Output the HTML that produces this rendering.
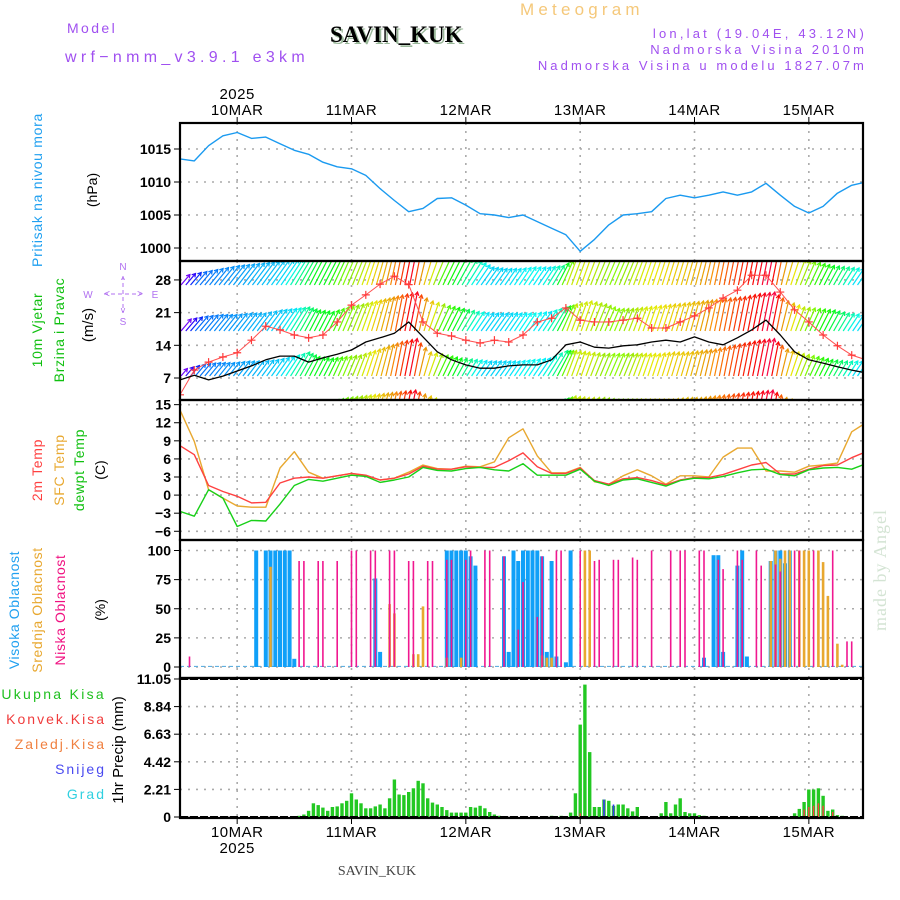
<!DOCTYPE html>
<html><head><meta charset="utf-8"><style>
html,body{margin:0;padding:0;background:#fff;}
svg{display:block;font-family:"Liberation Sans",sans-serif;}
.tk{font-size:14px;font-weight:bold;text-anchor:end;fill:#000;}
.dt{font-size:15px;text-anchor:middle;fill:#000;letter-spacing:0.5px;}
</style></head><body>
<svg id="chart" width="900" height="900" viewBox="0 0 900 900" xmlns="http://www.w3.org/2000/svg">
<rect width="900" height="900" fill="#fff"/>
<defs>
<clipPath id="cp1"><rect x="180" y="123" width="683" height="138"/></clipPath>
<clipPath id="cp2"><rect x="180" y="261" width="683" height="139"/></clipPath>
<clipPath id="cp3"><rect x="180" y="400" width="683" height="140"/></clipPath>
<clipPath id="cp4"><rect x="180" y="540" width="683" height="138"/></clipPath>
<clipPath id="cp5"><rect x="180" y="678" width="683" height="140"/></clipPath>
</defs>
<g>
<text x="67" y="33" font-size="14" fill="#a050f0" letter-spacing="2.4">Model</text>
<text x="65" y="62" font-size="16" fill="#a050f0" letter-spacing="4.3">wrf−nmm_v3.9.1 e3km</text>
<text x="332" y="44" font-size="23" font-weight="bold" fill="#9ab89a" font-family="Liberation Serif, serif">SAVIN_KUK</text>
<text x="330" y="42" font-size="23" font-weight="bold" fill="#000" font-family="Liberation Serif, serif">SAVIN_KUK</text>
<text x="520" y="15" font-size="17" fill="#f5c87a" letter-spacing="4.2">Meteogram</text>
<text x="867" y="38" font-size="13" fill="#a050f0" text-anchor="end" letter-spacing="3.2">lon,lat (19.04E, 43.12N)</text>
<text x="867" y="54" font-size="13" fill="#a050f0" text-anchor="end" letter-spacing="3.1">Nadmorska Visina 2010m</text>
<text x="867" y="70" font-size="13" fill="#a050f0" text-anchor="end" letter-spacing="3.1">Nadmorska Visina u modelu 1827.07m</text>
</g>
<g id="grid"></g>
<g id="marks"></g>
<g id="frames"></g>
<g id="axes"></g>
<g>
<text transform="translate(42,190) rotate(-90)" font-size="14" fill="#20a0f0" text-anchor="middle" letter-spacing="0.7">Pritisak na nivou mora</text>
<text transform="translate(97,190) rotate(-90)" font-size="14" fill="#000" text-anchor="middle">(hPa)</text>
<text transform="translate(42,330) rotate(-90)" font-size="14" fill="#10c010" text-anchor="middle" letter-spacing="0.7">10m Vjetar</text>
<text transform="translate(64,330) rotate(-90)" font-size="14" fill="#10c010" text-anchor="middle" letter-spacing="0.7">Brzina i Pravac</text>
<text transform="translate(93,325) rotate(-90)" font-size="15" fill="#000" text-anchor="middle">(m/s)</text>
<g fill="#b070f0" font-size="10" text-anchor="middle">
<text x="123" y="270">N</text><text x="123" y="325">S</text><text x="88" y="298">W</text><text x="155" y="298">E</text>
<text x="123" y="283" font-size="9">^</text><text x="123" y="313" font-size="9">v</text>
<line x1="104" y1="294" x2="142" y2="294" stroke="#b070f0" stroke-width="1" stroke-dasharray="4 3"/>
<line x1="123" y1="276" x2="123" y2="312" stroke="#b070f0" stroke-width="1" stroke-dasharray="4 3"/>
<text x="107" y="297">&lt;</text><text x="140" y="297">&gt;</text>
</g>
<text transform="translate(42,470) rotate(-90)" font-size="14" fill="#ff4040" text-anchor="middle" letter-spacing="0.7">2m Temp</text>
<text transform="translate(64,470) rotate(-90)" font-size="14" fill="#e8a830" text-anchor="middle" letter-spacing="0.7">SFC Temp</text>
<text transform="translate(84,470) rotate(-90)" font-size="14" fill="#10c010" text-anchor="middle" letter-spacing="0.7">dewpt Temp</text>
<text transform="translate(105,470) rotate(-90)" font-size="14" fill="#000" text-anchor="middle">(C)</text>
<text transform="translate(19,610) rotate(-90)" font-size="14" fill="#20a0f0" text-anchor="middle" letter-spacing="0.6">Visoka Oblacnost</text>
<text transform="translate(42,610) rotate(-90)" font-size="14" fill="#e8a830" text-anchor="middle" letter-spacing="0.6">Srednja Oblacnost</text>
<text transform="translate(65,610) rotate(-90)" font-size="14" fill="#f01080" text-anchor="middle" letter-spacing="0.6">Niska Oblacnost</text>
<text transform="translate(105,610) rotate(-90)" font-size="14" fill="#000" text-anchor="middle">(%)</text>
<text x="106" y="699" font-size="14" fill="#20c020" text-anchor="end" letter-spacing="2.3">Ukupna Kisa</text>
<text x="106" y="724" font-size="14" fill="#f03c3c" text-anchor="end" letter-spacing="2">Konvek.Kisa</text>
<text x="106" y="749" font-size="14" fill="#f08040" text-anchor="end" letter-spacing="2">Zaledj.Kisa</text>
<text x="106" y="774" font-size="14" fill="#4a4af0" text-anchor="end" letter-spacing="2">Snijeg</text>
<text x="106" y="799" font-size="14" fill="#30d0e0" text-anchor="end" letter-spacing="2">Grad</text>
<text transform="translate(123,750) rotate(-90)" font-size="15" fill="#000" text-anchor="middle">1hr Precip (mm)</text>
<text transform="translate(886,570) rotate(-90)" font-size="18" fill="#d4e4d4" text-anchor="middle" font-family="Liberation Serif, serif" letter-spacing="1">made by Angel</text>
<text x="377" y="875" font-size="14" fill="#444" text-anchor="middle" font-family="Liberation Serif, serif">SAVIN_KUK</text>
</g>
</svg>
<script>
// ---- data (3-hourly from 12Z 09MAR, index i -> hour 3i) ----
const dayLabels = ["10MAR","11MAR","12MAR","13MAR","14MAR","15MAR"];
const pressure = [1013.5,1013.2,1015.5,1017,1017.5,1016.6,1016.8,1015.8,1014.8,1014.2,1013,1012.3,1012,1011,1009,1007.2,1005.5,1006,1007.5,1007.6,1006.5,1005.2,1005,1004.6,1005,1004,1003,1002,999.5,1001.3,1003.5,1005,1005.2,1005.5,1007.5,1008,1007.6,1008,1008.5,1008,1008.5,1009.8,1008,1006.3,1005.3,1006.3,1008.3,1009.5,1010];
const gust = [3.4,8.7,10.4,11.5,12.4,15.1,18.1,17.3,16.2,15.6,16.2,19,22.6,24.8,27.1,28.8,27,19,16.6,16,15.1,14.5,15.1,14.7,16.2,19,19.8,22,19.4,19,19,19.4,19.8,17.7,17.7,19,20.3,22,24.1,25.8,29,29,25.4,21.6,19,16.2,13.9,11.9,10.9];
const windSpeed = [6.6,7.6,6.6,7.4,8.5,9.6,10.9,11.7,11.7,10.4,11.3,12.1,13,14.7,15.6,16.6,19,15.8,12.6,10.9,9.8,9.1,9.1,9.6,9.8,9.8,10.9,14.1,14.7,13.6,13.4,13.9,14.1,14.7,15.1,14.7,15.8,14.7,14.1,15.6,17.3,19.4,16.2,12.6,10.9,10.2,9.4,8.7,8.1];
const windDir = [248,235,232,230,228,226,224,220,212,205,205,198,195,188,182,175,168,185,200,205,215,222,222,220,218,220,212,192,190,195,197,195,190,188,186,185,182,178,175,172,170,165,180,192,200,205,212,220,222];
const levelA = [7,9,11,13,14,15,16,17,18,19,19,19,20,20,20,20,20,19,19,18,16,12,11,11,12,12,13,18,18,19,19,19,19,19,19,19,20,20,20,20,20,20,19,17,15,13,12,11,11];
const levelB = [8,10,11,11,12,12,14,15,16,14,13,16,18,20,22,24,26,20,17,15,13,12,12,12,12,13,16,18,20,18,15,15,16,17,18,19,20,21,22,23,25,26,20,16,15,14,12,11,11];
const levelC = [5,8,9,9,10,10,11,13,16,13,12,13,14,17,20,23,25,16,14,12,11,10,10,10,11,12,17,17,16,15,15,15,15,15,16,16,17,18,20,22,24,25,18,15,13,11,10,10,10];
const levelD = [10,10,10,10,10,10,10,10,10,12,13,15,16,17,18,19,20,16,12,10,10,10,10,10,10,10,14,16,15,15,14,14,14,14,14,15,15,16,17,18,19,20,15,12,10,10,10,10,10];
const tempSfc = [14.1,8.9,0.9,-0.5,-1.8,-2,-2,4.5,7.2,3.8,2.8,3.2,3.6,3.2,2.5,2.8,3.8,5,4.4,4.3,4.8,4.7,5.5,9.5,11,6.5,3.7,3.7,4.6,2.2,1.8,3.2,4.2,3.2,1.8,3.2,3.2,3.0,6.3,7.8,7.8,4,4,3.8,4.8,5,5.3,10.5,12];
const temp2m = [8.2,6.7,1.6,0.6,-0.2,-1.3,-1.2,2,2.8,3,2.8,3.2,3.6,3.3,2.5,2.8,3.5,4.8,4.3,4.3,4.7,4.6,4.6,5.7,7,4.7,3.6,3.6,4.5,2.4,1.8,2.7,2.9,2.4,1.7,2.5,2.9,2.9,3.4,4.2,5,5.4,3.5,3.5,4.3,4.9,5,6.2,7.2];
const dewpt = [-2.7,-3.5,0.9,-0.5,-5.2,-4.2,-4.3,-1.5,1.6,2.6,2.3,2.8,3.3,3.1,2.1,2.5,3,4.6,4.1,4,4.4,4.6,4.2,4,5.2,3.3,3.3,3.3,4.3,2.3,1.6,2.5,2.7,2.1,1.5,2.4,2.8,2.7,3.1,3.7,4.2,4.3,3.4,3.2,4.2,4.5,4.6,4.3,5.2];
// ---- cloud cover (hour index, %) ----
const highHours = [16,18,19,20,21,22,23,24,41,42,56,57,58,59,60,61,62,68,69,70,71,72,73,74,75,76,77,78,79,81,82,110,112,113,114,117,118,119,124,125,126,127,128];
const highVals = [100,100,100,100,100,100,100,7,76,13,100,100,100,100,100,95,87,95,13,100,91,100,100,100,100,95,13,91,9,4,100,8,96,96,13,87,100,9,91,100,100,89,100];
const midHours = [19,44,45,49,50,51,56,59,76,77,78,85,86,124,125,126,127,128,130,131,132,134,135,136,138,139];
const midVals = [86,54,46,11,11,52,8,8,10,8,8,100,100,91,100,93,100,100,100,100,100,100,90,61,20,2];
const lowHours = [2,25,26,29,30,33,36,37,40,41,44,45,48,49,52,53,56,57,60,61,64,65,68,71,72,75,76,79,80,84,87,88,91,92,95,96,99,103,105,106,109,110,113,114,117,118,121,122,125,126,129,130,133,137,140,141];
const lowVals = [9,91,91,91,91,91,100,100,100,100,100,100,91,91,91,91,92,92,92,100,100,100,95,32,73,43,95,100,100,100,91,92,92,92,94,92,100,100,100,100,100,100,92,84,100,92,100,87,88,82,100,100,100,100,22,22];
// ---- hourly precipitation (mm) ----
const precipTotal = [0,0,0,0,0,0,0,0,0,0,0,0,0,0,0,0,0,0,0,0,0,0,0,0,0,
0.1,0.2,0.5,1.1,0.95,0.75,0.5,0.8,0.85,1.1,1.3,1.9,1.4,1.1,0.7,0.7,0.85,1.0,0.7,1.5,3.0,1.8,1.75,2.0,2.3,2.9,2.7,1.5,1.15,1.0,0.8,0.55,
0.35,0.35,0.35,0.35,0.8,0.75,0.9,0.7,0.4,0.2,0.1,
0,0,0,0,0,0,0,0,0,0,
0.1,0,0.1,0,0.35,1.9,7.4,10.6,5.2,0.8,0.8,1.4,1.3,0.9,1.0,1.0,0.7,0.45,0.8,
0,0,0,0,
0.3,1.2,0.3,1.0,1.5,0.4,0.3,0.3,0.15,0.1,
0,0,0,0,0,0,0,0,0,0,0,0,0,0,0,0,0,0,
0.3,0.65,1.2,2.2,2.2,2.3,1.7,0.5,0.6,0.15,0.1,
0,0,0,0];
const convHours = [84,131,132,133,134,135,137];
const convVals = [0.3,0.6,0.8,0.9,1.1,0.9,0.4];
const snowHours = [89,91];
const snowVals = [1.4,1.0];
const pressureTicks = [1015,1010,1005,1000];
const windTicks = [7,14,21,28];
const tempTicks = [15,12,9,6,3,0,-3,-6];
const cloudTicks = [0,25,50,75,100];
const precipTicks = ["0","2.21","4.42","6.63","8.84","11.05"];

// ---- scales ----
const X0=180,X1=863,PXH=4.764;
const xh = h => X0 + h*PXH;
const yP = p => 149 + (1015-p)*6.6;
const yW = v => 378 - (v-7)*4.67;
const yT = t => 495.1 - t*6.03;
const yC = c => 667 - c*1.165;
const yR = r => 817 - r*12.49;

const NS="http://www.w3.org/2000/svg";
function mk(tag, parent, attrs){const e=document.createElementNS(NS,tag);for(const k in attrs)e.setAttribute(k,attrs[k]);parent.appendChild(e);return e;}
const grid=document.getElementById('grid'), marks=document.getElementById('marks'), frames=document.getElementById('frames'), axes=document.getElementById('axes');
const panels=[[123,261],[261,400],[400,540],[540,678],[678,818]];
const dotted={stroke:"#aaa","stroke-width":"1.6","stroke-dasharray":"2 6",fill:"none"};

dayLabels.forEach((d,k)=>{
  const x=xh(12+24*k);
  panels.forEach(p=>{const l=mk('line',grid,Object.assign({x1:x,x2:x,y1:p[0],y2:p[1]},dotted));
    
    });
  const t=mk('text',axes,{x:x,y:115,class:'dt'});t.textContent=d;
  
  
  const b=mk('text',axes,{x:x,y:837,class:'dt'});b.textContent=d;
  
  
  mk('line',axes,{x1:x,x2:x,y1:117,y2:123,stroke:'#000','stroke-width':1});
  mk('line',axes,{x1:x,x2:x,y1:818,y2:824,stroke:'#000','stroke-width':1});
});
{const t=mk('text',axes,{x:xh(12),y:99,class:'dt'});t.textContent='2025';


const b=mk('text',axes,{x:xh(12),y:853,class:'dt'});b.textContent='2025';

}

function hTicks(vals, yf, name, labels){
  vals.forEach((v,i)=>{const y=yf(typeof v==='string'?parseFloat(v):v);
    const l=mk('line',grid,Object.assign({x1:X0,x2:X1,y1:y,y2:y},dotted));
    
    
    mk('line',axes,{x1:X0-6,x2:X0,y1:y,y2:y,stroke:'#000','stroke-width':1});
    const t=mk('text',axes,{x:X0-9,y:y+5,class:'tk'});t.textContent=labels?labels[i]:String(v).replace('-','−');
    
    });
}
hTicks(pressureTicks,yP,'pressure');
hTicks(windTicks,yW,'wind');
hTicks(tempTicks,yT,'temp');
hTicks(cloudTicks,yC,'cloud');
hTicks(precipTicks,yR,'precip',precipTicks);

function linePath(arr, yf, clip, color, w, name){
  const d=arr.map((v,i)=>(i?'L':'M')+xh(3*i).toFixed(1)+','+yf(v).toFixed(1)).join('');
  const p=mk('path',marks,{d:d,stroke:color,'stroke-width':w,fill:'none','clip-path':'url(#'+clip+')','stroke-linejoin':'round'});
  
  
  return p;
}
linePath(pressure,yP,'cp1','#1a9af0',1.4,'pressure-line');

function hueFor(d){
  const pts=[[160,330],[170,360],[178,395],[185,410],[195,440],[205,485],[220,545],[235,575],[250,635]];
  if(d<=pts[0][0])return pts[0][1]%360;
  for(let i=1;i<pts.length;i++){if(d<=pts[i][0]){const a=pts[i-1],b=pts[i];const t=(d-a[0])/(b[0]-a[0]);return (a[1]+t*(b[1]-a[1]))%360;}}
  return 275;
}
function at(arr,h){const f=h/3,i=Math.floor(f),t=f-i;if(i>=arr.length-1)return arr[arr.length-1];return arr[i]+(arr[i+1]-arr[i])*t;}
const windG=mk('g',marks,{'clip-path':'url(#cp2)'});


const levels=[[levelD,420],[levelC,376],[levelB,331],[levelA,285]];
levels.forEach(([lv,base])=>{
  for(let h=0;h<144;h++){
    const x=xh(h)+1, sp=at(lv,h), d=at(windDir,h);
    const k=Math.min(0.85,Math.max(0.2,0.3+0.011*(d-185)));
    const dy=sp*1.5, dx=dy*k;
    const hu=hueFor(d);
    const col='hsl('+hu.toFixed(0)+',95%,'+(Math.abs(hu-60)<25?'47%':'50%')+')';
    const tx=x+dx, ty=base-dy;
    const a=mk('line',windG,{x1:x,y1:base,x2:tx,y2:ty,stroke:col,'stroke-width':1.2});
    
    
    const ang=Math.atan2(ty-base,tx-x);
    const hd=mk('path',windG,{d:'M'+(tx+4*Math.cos(ang+2.6)).toFixed(1)+','+(ty+4*Math.sin(ang+2.6)).toFixed(1)+'L'+tx.toFixed(1)+','+ty.toFixed(1)+'L'+(tx+4*Math.cos(ang-2.6)).toFixed(1)+','+(ty+4*Math.sin(ang-2.6)).toFixed(1),stroke:col,'stroke-width':1.2,fill:'none'});
    
    
  }
});
linePath(gust,yW,'cp2','#ff5050',1,'gust-line');
gust.forEach((v,i)=>{const x=xh(3*i),y=yW(v);
  const p=mk('path',marks,{d:'M'+(x-4)+','+y+'h8M'+x+','+(y-4)+'v8',stroke:'#ff3a3a','stroke-width':1.2,'clip-path':'url(#cp2)'});
  
  });
linePath(windSpeed,yW,'cp2','#000',1.3,'wind-speed-line');

linePath(tempSfc,yT,'cp3','#e8a830',1.4,'sfc-temp-line');
linePath(temp2m,yT,'cp3','#ff4040',1.4,'temp-2m-line');
linePath(dewpt,yT,'cp3','#18d018',1.4,'dewpt-line');

{const l=mk('line',marks,{x1:X0,x2:X1,y1:yC(0.5),y2:yC(0.5),stroke:'#60b0e0','stroke-width':1.2,'stroke-dasharray':'4 3'});

}
function bars(hours, vals, yf, w, color, clip, name, y0){
  hours.forEach((h,i)=>{const y=yf(vals[i]);
    const r=mk('rect',marks,{x:(xh(h)-w/2).toFixed(1),y:y.toFixed(1),width:w,height:Math.max(0,y0-y).toFixed(1),fill:color,'clip-path':'url(#'+clip+')'});
    
    });
}
bars(highHours,highVals,yC,4,'#10a0f8','cp4','high-cloud-bar',yC(0));
bars(midHours,midVals,yC,2.6,'#e8a830','cp4','mid-cloud-bar',yC(0));
bars(lowHours,lowVals,yC,1.6,'#f01890','cp4','low-cloud-bar',yC(0));

bars(precipTotal.map((v,i)=>i),precipTotal,yR,3.4,'#22c822','cp5','total-precip-bar',yR(0));
bars(convHours,convVals,yR,1.4,'#ff4040','cp5','convective-precip-bar',yR(0));
bars(snowHours,snowVals,yR,1.6,'#3a3af0','cp5','snow-bar',yR(0));

panels.forEach((p,i)=>{const r=mk('rect',frames,{x:X0,y:p[0],width:X1-X0,height:p[1]-p[0],fill:'none',stroke:'#000','stroke-width':2.2});
  
  });
{const l=mk('line',frames,{x1:X0,x2:X1,y1:679,y2:679,stroke:'#000','stroke-width':2,'stroke-dasharray':'8 2'});


const l2=mk('line',frames,{x1:X0,x2:X1,y1:817,y2:817,stroke:'#000','stroke-width':2,'stroke-dasharray':'8 2'});

}
</script>
</body></html>
